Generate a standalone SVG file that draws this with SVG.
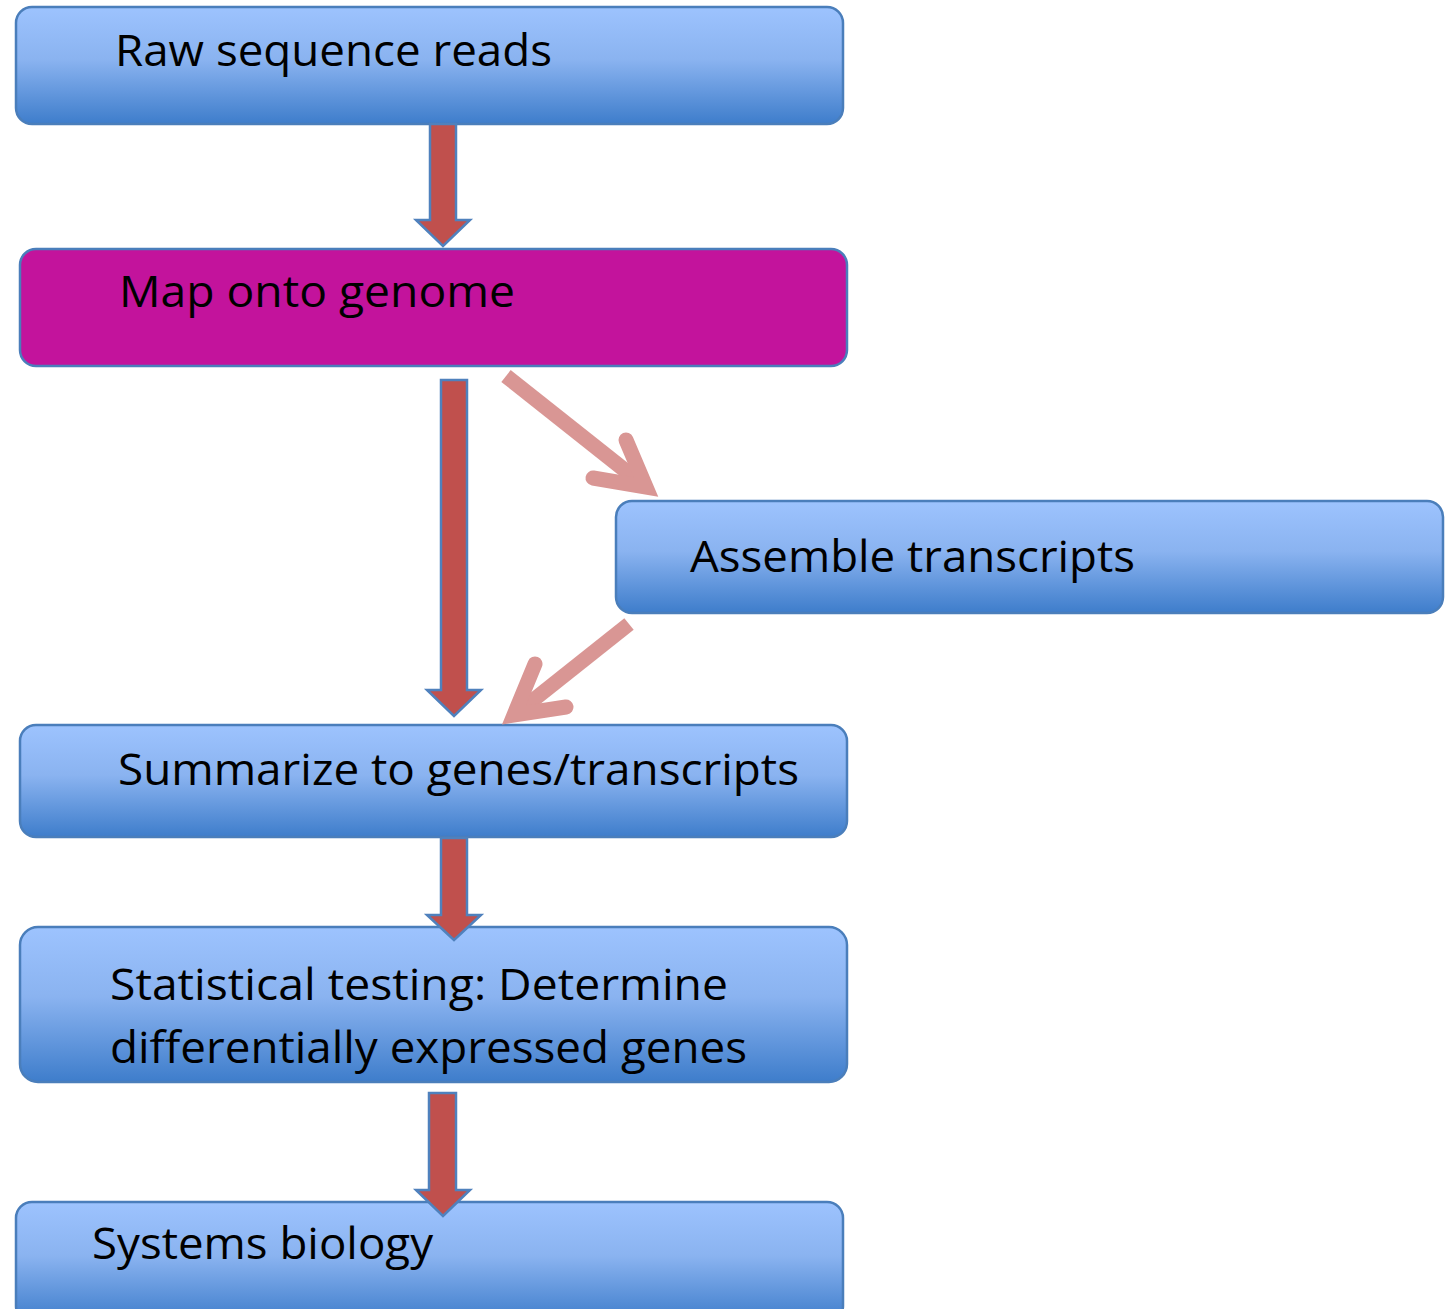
<svg xmlns="http://www.w3.org/2000/svg" width="1454" height="1309" viewBox="0 0 1454 1309">
<defs>
<linearGradient id="blue" x1="0" y1="0" x2="0" y2="1">
<stop offset="0" stop-color="#9DC3FE"/>
<stop offset="0.45" stop-color="#8AB3F0"/>
<stop offset="1" stop-color="#3E7DCB"/>
</linearGradient>
</defs>
<style>
.box{fill:url(#blue);stroke:#4A7EBB;stroke-width:2.5}
.mag{fill:#C3139C;stroke:#4A7EBB;stroke-width:2.5}
.lbl{font-family:"Open Sans","Liberation Sans",sans-serif;font-size:44px;fill:#000}
.blk{fill:#C0504D;stroke:#4F81BD;stroke-width:2.5;stroke-linejoin:miter}
.pk{fill:none;stroke:#D99694;stroke-width:15;stroke-linecap:round;stroke-linejoin:miter;stroke-miterlimit:10}
.pks{fill:none;stroke:#D99694;stroke-width:15;stroke-linecap:butt}
</style>
<rect width="1454" height="1309" fill="#fff"/>
<g id="raw">
<rect class="box" x="16" y="7" width="827" height="117" rx="16"/>
<text class="lbl" x="115" y="66" textLength="437" lengthAdjust="spacingAndGlyphs">Raw sequence reads</text>
</g>
<g id="map">
<rect class="mag" x="20" y="249" width="827" height="117" rx="16"/>
<text class="lbl" x="119" y="307" textLength="396" lengthAdjust="spacingAndGlyphs">Map onto genome</text>
</g>
<g id="assemble">
<rect class="box" x="616" y="501" width="827" height="112" rx="16"/>
<text class="lbl" x="690" y="572" textLength="445" lengthAdjust="spacingAndGlyphs">Assemble transcripts</text>
</g>
<g id="summarize">
<rect class="box" x="20" y="725" width="827" height="112" rx="16"/>
<text class="lbl" x="118" y="785" textLength="681" lengthAdjust="spacingAndGlyphs">Summarize to genes/transcripts</text>
</g>
<g id="statistical">
<rect class="box" x="20" y="927" width="827" height="155" rx="18"/>
<text class="lbl" x="110" y="1000" textLength="618" lengthAdjust="spacingAndGlyphs">Statistical testing: Determine</text>
<text class="lbl" x="110" y="1063" textLength="637" lengthAdjust="spacingAndGlyphs">differentially expressed genes</text>
</g>
<g id="systems">
<rect class="box" x="16" y="1202" width="827" height="120" rx="16"/>
<text class="lbl" x="92" y="1259" textLength="341" lengthAdjust="spacingAndGlyphs">Systems biology</text>
</g>
<g id="connectors">
<path class="blk" d="M430,124 H456 V220 H470 L443,246 L416,220 H430 Z"/>
<path class="blk" d="M441,380 H467 V690 H481 L454,716 L427,690 H441 Z"/>
<path class="blk" d="M441,838 H467 V915 H481 L454,940 L427,915 H441 Z"/>
<path class="blk" d="M429,1093 H456 V1190 H470 L443,1216 L416,1190 H429 Z"/>
<line class="pks" x1="506" y1="376" x2="641" y2="483"/>
<polyline class="pk" points="626,440 646,487 593,478"/>
<line class="pks" x1="629" y1="624" x2="517" y2="713"/>
<polyline class="pk" points="535,664 514,715 566,707"/>
</g>
</svg>
